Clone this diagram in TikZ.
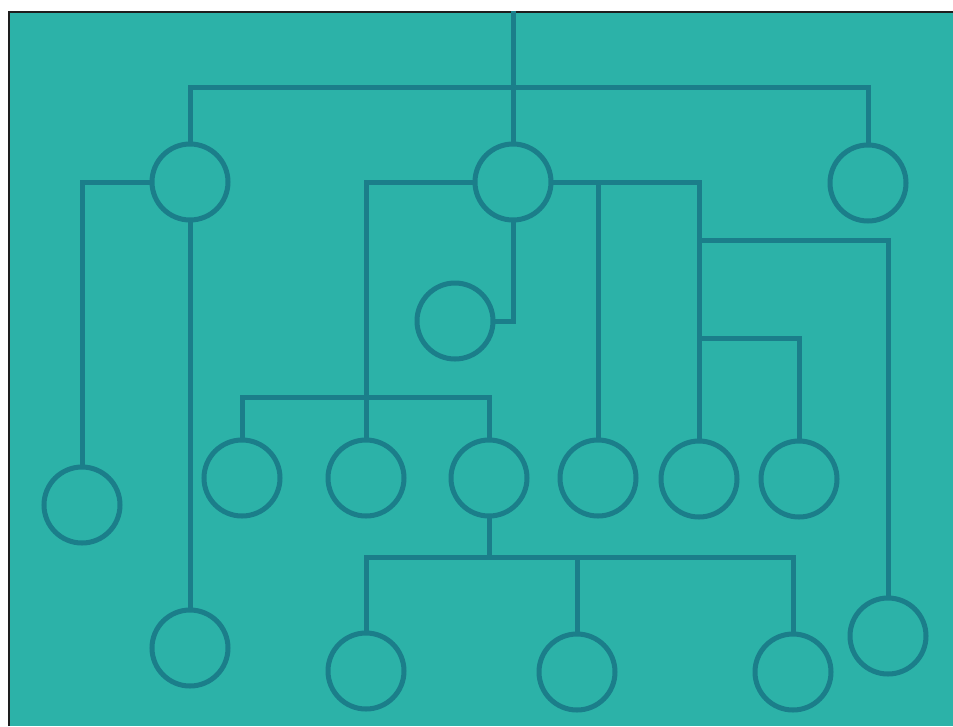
\documentclass[tikz,border=0pt]{standalone}
\begin{document}
\begin{tikzpicture}[x=0.75pt,y=-0.75pt,
  conn/.style={draw=linecol,line width=3.75pt,line cap=rect},
  ring/.style={circle,draw=linecol,line width=3.75pt,minimum size=57pt,inner sep=0pt}]
\definecolor{bgcol}{RGB}{44,178,168}
\definecolor{linecol}{RGB}{27,126,138}
\definecolor{framecol}{RGB}{30,30,30}
\useasboundingbox (0,0) rectangle (953,726);
\fill[white] (0,0) rectangle (953,726);
\fill[bgcol] (9,12) rectangle (953,726);
\draw[framecol,line width=2.2pt] (9,726) -- (9,12) -- (953,12);
% circles
\node[ring] (L1) at (190,182) {};
\node[ring] (A)  at (513,182) {};
\node[ring] (R1) at (868,183) {};
\node[ring] (B)  at (455,321) {};
\node[ring] (LL) at (82,505) {};
\node[ring] (Lb) at (190,648) {};
\node[ring] (c1) at (242,478) {};
\node[ring] (c2) at (366,478) {};
\node[ring] (c3) at (489,478) {};
\node[ring] (c4) at (598,478) {};
\node[ring] (c5) at (699,479) {};
\node[ring] (c6) at (799,479) {};
\node[ring] (d1) at (366,671) {};
\node[ring] (d2) at (577,672) {};
\node[ring] (d3) at (793,672) {};
\node[ring] (e)  at (888,636) {};
% junctions
\coordinate (top) at (513,13);
\coordinate (tb) at (513,87);
\coordinate (j1) at (699,240);
\coordinate (j2) at (699,338);
\coordinate (j3) at (366,397);
\coordinate (j4) at (489,557);
% connectors
\draw[conn] (top) -- (A.north);
\draw[conn] (L1.north) |- (tb) -| (R1.north);
\draw[conn] (L1.west) -| (LL.north);
\draw[conn] (L1.south) -- (Lb.north);
\draw[conn] (A.west) -| (c2.north);
\draw[conn] (A.south) |- (B.east);
\draw[conn] (A.east) -| (c5.north);
\draw[conn] (c4.north) |- (A.east);
\draw[conn] (j1) -| (e.north);
\draw[conn] (j2) -| (c6.north);
\draw[conn] (c1.north) |- (j3) -| (c3.north);
\draw[conn] (c3.south) -- (j4);
\draw[conn] (d1.north) |- (j4) -| (d3.north);
\draw[conn] (d2.north) -- (d2.north |- j4);
\end{tikzpicture}
\end{document}
